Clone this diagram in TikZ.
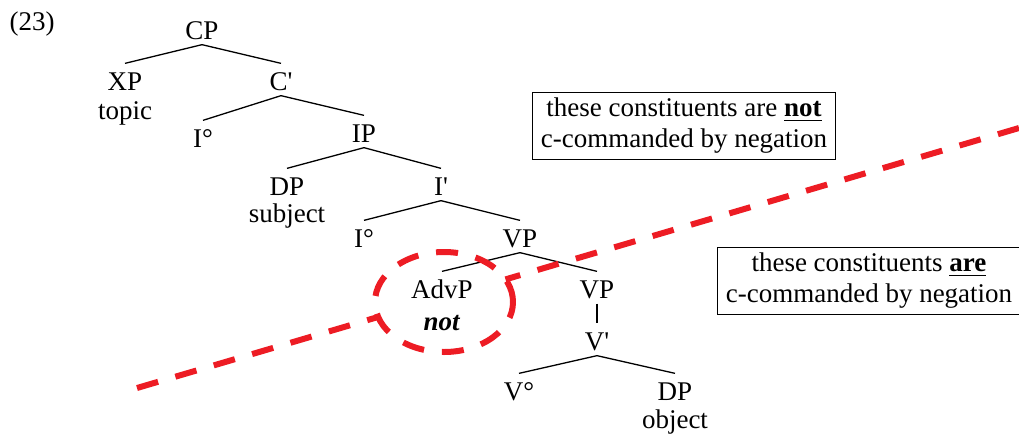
\documentclass[tikz,border=0pt]{standalone}
\usepackage{fontspec}
\setmainfont{Liberation Serif}[Ligatures=TeXOff]
\definecolor{negred}{RGB}{237,28,36}

\begin{document}
\begin{tikzpicture}[x=.5pt,y=-.5pt, font=\fontsize{13.5}{15.5}\selectfont, line width=.65pt,
  cat/.style={anchor=base,inner xsep=1pt,inner ysep=2.5pt,text height=10.5pt,text depth=0pt},
  box/.style={draw,align=center,inner xsep=4pt,inner ysep=3pt},
  neg/.style={draw=negred,line width=3pt,dash pattern=on 11pt off 9pt}]
  \useasboundingbox (0,0) rectangle (1019,435);
  \node[anchor=base] (ex) at (32,30) {(23)};

  \node[cat] (cp) at (202,39) {CP};
  \node[cat] (xp) at (125,90) {XP};
  \node[anchor=base] (topic) at (125,119) {topic};
  \node[cat] (c1) at (281,90) {C'};
  \node[cat] (i0a) at (203,147) {I°};
  \node[cat] (ip) at (364,142) {IP};
  \node[cat] (dps) at (287,195) {DP};
  \node[anchor=base] (subj) at (287,222) {subject};
  \node[cat] (i1) at (441,195) {I'};
  \node[cat] (i0b) at (364,247) {I°};
  \node[cat] (vp) at (520,247) {VP};
  \node[cat] (advp) at (442,298) {AdvP};
  \node[anchor=base] (not) at (442,330) {\textbf{\textit{not}}};
  \node[cat] (vp2) at (597,298) {VP};
  \node[cat] (v1) at (597,350) {V'};
  \node[cat] (v0) at (519,400) {V°};
  \node[cat] (dpo) at (675,400) {DP};
  \node[anchor=base] (obj) at (675,428) {object};

  \draw (cp.south) -- (xp.north);
  \draw (cp.south) -- (c1.north);
  \draw (c1.south) -- (i0a.north);
  \draw (c1.south) -- (ip.north);
  \draw (ip.south) -- (dps.north);
  \draw (ip.south) -- (i1.north);
  \draw (i1.south) -- (i0b.north);
  \draw (i1.south) -- (vp.north);
  \draw (vp.south) -- (advp.north);
  \draw (vp.south) -- (vp2.north);
  \draw (vp2.south) -- (v1.north);
  \draw (v1.south) -- (v0.north);
  \draw (v1.south) -- (dpo.north);

  % negation boundary, broken by the circled AdvP
  \draw[neg] (137,388) -- (378,317);
  \draw[neg] (1019,128) -- (505.5,279.4);
  \draw[neg] (444,302) ellipse [x radius=34.5pt, y radius=25pt];

  \node[box] (above) at (684,126) {these constituents are \underline{\textbf{not}}\\c-commanded by negation};
  \node[box] (below) at (869,281) {these constituents \underline{\textbf{are}}\\c-commanded by negation};
\end{tikzpicture}
\end{document}
